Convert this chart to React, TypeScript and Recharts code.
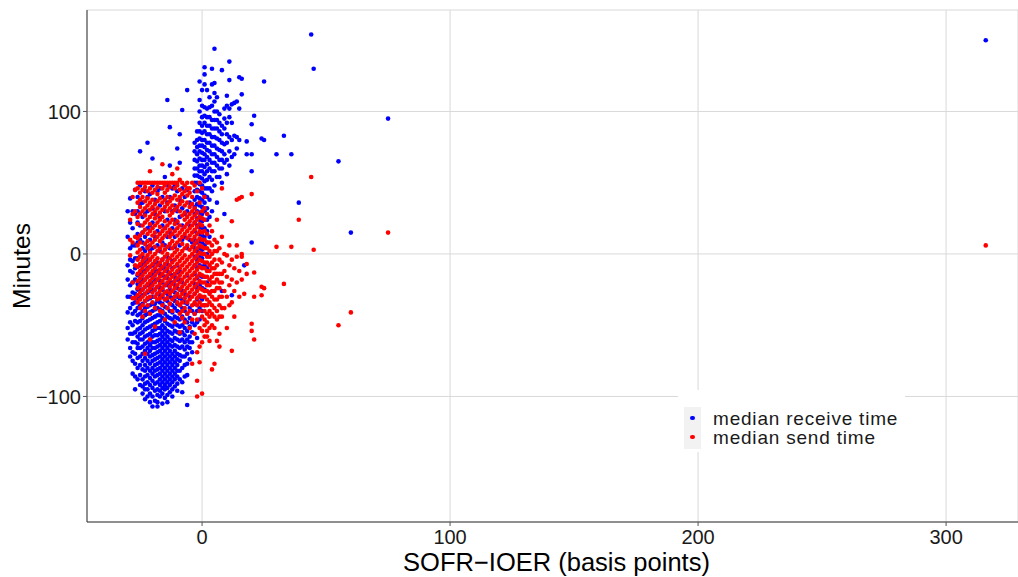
import React from 'react';
import { ScatterChart, Scatter, XAxis, YAxis, CartesianGrid, Legend } from 'recharts';

const xTicks = [0, 100, 200, 300];
const yTicks = [-100, 0, 100];
const seriesNames = ['median receive time', 'median send time'];
const xTitle = 'SOFR\u2212IOER (basis points)';
const yTitle = 'Minutes';

// median receive time: [SOFR-IOER bp, minutes observed at that spread]
const receiveLow: [number, number[]][] = [
  [-30, [30, 12, -8, -18, -30, -41, -52, -60]],
  [-29, [39, 22, 4, -4, -12, -22, -30, -38, -48, -56, -66, -72]],
  [-28, [30, 18, 6, -5, -13, -20, -27, -35, -42, -50, -56, -62, -69, -75, -84]],
  [-27, [45, 28, 6, -3, -10, -18, -28, -34, -40, -47, -55, -62, -70, -77, -86, -95]],
  [-26, [40, 30, 22, 14, 8, -3, -9, -15, -21, -25, -31, -38, -43, -48, -53, -58, -63, -66, -73, -80, -88]],
  [-25, [72, 48, 35, 20, 10, -2, -8, -14, -20, -25, -30, -36, -42, -47, -52, -56, -60, -66, -72, -78, -85, -92]],
  [-24, [36, 26, 15, 8, 4, -2, -7, -12, -18, -25, -29, -35, -40, -45, -50, -55, -60, -65, -70, -75, -81, -88, -93, -98]],
  [-23, [44, 28, 12, 2, -6, -12, -18, -23, -28, -33, -38, -43, -48, -53, -58, -63, -68, -73, -78, -82, -86, -91, -95, -102]],
  [-22, [78, 40, 30, 18, 5, -4, -10, -16, -22, -27, -32, -37, -42, -47, -52, -57, -62, -66, -70, -75, -80, -85, -90, -95, -100]],
  [-21, [42, 20, 10, 2, -4, -9, -15, -21, -26, -31, -36, -41, -46, -51, -56, -60, -64, -68, -72, -77, -82, -87, -92, -98, -104]],
  [-20, [67, 48, 32, 22, 4, -8, -14, -20, -25, -30, -35, -40, -45, -50, -54, -58, -62, -66, -71, -75, -80, -84, -89, -94, -100, -107]],
  [-19, [38, 28, 12, -6, -12, -18, -25, -30, -35, -39, -44, -49, -53, -57, -62, -66, -70, -74, -78, -82, -86, -91, -96, -103]],
  [-18, [44, 16, 6, -6, -12, -18, -23, -28, -33, -38, -43, -48, -52, -57, -61, -65, -69, -73, -77, -81, -85, -90, -95, -99, -104, -107]],
  [-17, [46, 34, 25, 2, -8, -14, -19, -24, -29, -34, -39, -43, -47, -52, -56, -60, -64, -68, -72, -76, -80, -84, -88, -92, -96, -100]],
  [-16, [40, 20, 8, -4, -10, -15, -20, -25, -30, -35, -40, -45, -50, -54, -58, -62, -66, -70, -74, -78, -82, -86, -90, -94, -98, -105]],
  [-15, [54, 30, 18, 6, -10, -16, -22, -27, -32, -37, -42, -47, -52, -56, -60, -64, -68, -72, -76, -80, -84, -88, -92, -95, -101]],
  [-14, [108, 48, 36, 24, 12, -2, -7, -12, -17, -22, -28, -33, -38, -44, -49, -54, -58, -62, -66, -70, -74, -78, -82, -86, -90, -94, -99, -104]],
  [-13, [89, 62, 40, 15, 4, -14, -20, -25, -30, -35, -40, -45, -50, -55, -60, -64, -68, -72, -76, -80, -84, -88, -92, -97]],
  [-12, [46, 30, 18, -5, -10, -15, -20, -26, -31, -36, -41, -46, -51, -56, -61, -65, -70, -74, -78, -82, -86, -90, -95, -100]],
  [-11, [48, 34, 24, 12, 5, -16, -22, -27, -33, -38, -44, -49, -54, -59, -64, -68, -72, -76, -80, -84, -88, -93]],
  [-10, [74, 44, 30, 22, -8, -13, -18, -24, -30, -35, -40, -45, -50, -55, -60, -65, -70, -74, -78, -82, -86, -91, -96]],
  [-9, [84, 64, 38, 26, 6, -12, -18, -25, -31, -36, -41, -46, -51, -56, -61, -66, -71, -75, -82, -88]],
  [-8, [101, 46, 32, 20, 10, -20, -26, -32, -38, -44, -50, -55, -60, -65, -72, -80, -90, -97]],
  [-7, [40, 28, 12, -28, -34, -40, -46, -52, -57, -62, -67, -72, -78, -86]],
  [-6, [115, 45, 30, 4, -15, -35, -42, -48, -54, -60, -65, -70, -77, -85, -106]],
  [-5, [36, 20, 10, -30, -38, -45, -51, -58, -62, -66, -74]],
  [-4, [8, -40, -48, -55, -62, -69]],
];

const receiveHigh: [number, number[]][] = [
  [-3, [-50, -42, -35, -28, -21, -14, -8, -2, 4, 10, 16, 22, 28, 33, 38, 44, 50, 55, 60, 66, 72, 78]],
  [-2, [-59, -48, -40, -32, -24, -17, -10, -4, 2, 8, 14, 20, 25, 30, 35, 40, 45, 50, 55, 60, 65, 70, 75, 80, 86]],
  [-1, [-46, -38, -30, -22, -15, -8, -2, 4, 9, 14, 19, 24, 29, 34, 39, 44, 49, 54, 58, 62, 67, 72, 76, 81, 86, 92, 100, 108, 121]],
  [0, [-40, -32, -24, -16, -9, -3, 3, 8, 13, 18, 23, 28, 33, 38, 43, 48, 53, 58, 62, 66, 71, 76, 80, 85, 90, 96, 104, 115]],
  [1, [-36, -25, -16, -8, 0, 6, 12, 18, 24, 30, 36, 41, 46, 51, 56, 61, 66, 70, 75, 80, 86, 92, 97, 103, 119, 126, 131]],
  [2, [-20, -10, 0, 8, 16, 24, 32, 40, 46, 52, 58, 63, 68, 73, 78, 84, 90, 96, 102, 115]],
  [3, [-27, 12, 26, 38, 46, 54, 60, 66, 72, 78, 84, 90, 96, 103, 110]],
  [4, [30, 44, 52, 58, 64, 70, 76, 82, 88, 94, 104, 119, 130]],
  [5, [48, 58, 64, 70, 76, 82, 88, 94, 100, 107, 113, 120, 144]],
  [6, [36, 54, 62, 68, 74, 81, 88, 94, 100, 110]],
  [7, [54, 60, 66, 73, 80, 86, 92, 98]],
  [8, [-26, 50, 60, 66, 72, 78, 84, 90, 129]],
  [9, [28, 64, 70, 77, 88, 95, 102]],
  [10, [56, 66, 78, 84, 92, 104, 111]],
  [11, [62, 72, 82, 96, 102, 122, 135]],
  [12, [-29, 68, 80, 92, 105]],
  [13, [70, 83, 106]],
  [14, [74, 82, 107]],
  [15, [80, 102, 124]],
  [16, [112, 123]],
  [17, [-8]],
  [18, [70, 79]],
  [20, [8, 58, 70, 91]],
  [21, [97]],
  [24, [81]],
  [25, [80, 121]],
  [30, [70]],
  [33, [83]],
  [36, [70]],
  [39, [36]],
  [44, [154]],
  [45, [130]],
  [55, [65]],
  [60, [15]],
  [75, [95]],
  [316, [150]],
];

// median send time
const sendLeft: [number, number[]][] = [
  [-29, [24, 10, -1]],
  [-28, [40, 28, 8, -20, -31]],
  [-27, [45, 30, 12, -8, -31]],
  [-26, [50, 46, 36, 26, 21, 11, 6, 1, -4, -9, -14, -19, -24, -29, -34]],
  [-25, [50, 43, 38, 33, 28, 13, 8, 3, -2, -7, -12, -17, -22, -27, -32, -38]],
  [-24, [50, 45, 40, 30, 20, 15, 0, -5, -10, -15, -20, -25, -30, -36, -44]],
  [-23, [50, 47, 37, 32, 27, 22, 17, 7, -3, -8, -13, -18, -23, -28, -33, -40, -70]],
  [-22, [50, 44, 39, 34, 24, 14, 9, 4, -1, -6, -11, -16, -21, -26, -31, -36]],
  [-21, [58, 50, 46, 36, 31, 26, 21, 16, 6, 1, -4, -9, -14, -19, -24, -30, -42, -60]],
  [-20, [50, 43, 38, 33, 28, 18, 13, 8, -2, -7, -12, -17, -22, -27, -34]],
  [-19, [50, 45, 35, 30, 25, 20, 15, 10, 5, 0, -5, -10, -15, -20, -25, -30, -38, -51]],
  [-18, [50, 47, 42, 37, 32, 27, 22, 12, 2, -3, -8, -13, -18, -23, -28, -32]],
  [-17, [50, 39, 29, 24, 19, 14, 9, 4, -6, -11, -16, -21, -26, -31, -40]],
  [-16, [63, 50, 46, 36, 31, 26, 16, 11, 6, 1, -4, -9, -14, -19, -24, -29, -36, -41]],
  [-15, [50, 48, 43, 38, 33, 23, 18, 13, 3, -2, -7, -12, -17, -22, -27, -32, -46]],
  [-14, [50, 45, 40, 35, 30, 20, 15, 5, 0, -5, -10, -15, -20, -26, -31, -38]],
  [-13, [50, 47, 37, 32, 27, 22, 17, 12, 7, -3, -8, -13, -18, -23, -28, -35]],
  [-12, [56, 50, 39, 34, 29, 24, 14, 9, 4, -1, -6, -11, -16, -21, -26, -32, -40]],
  [-11, [50, 46, 41, 31, 21, 16, 6, 1, -4, -9, -14, -19, -24, -30, -48]],
  [-10, [60, 50, 48, 38, 33, 23, 18, 13, 8, 3, -2, -7, -12, -17, -22, -28, -34]],
  [-9, [52, 45, 40, 35, 30, 20, 15, 10, 0, -5, -10, -15, -20, -25, -30, -36, -42, -55]],
  [-8, [50, 42, 37, 27, 17, 12, 7, 2, -3, -8, -13, -18, -23, -28, -34, -40, -45]],
  [-7, [48, 44, 34, 29, 24, 19, 14, 4, -1, -6, -11, -16, -21, -26, -31, -38, -48]],
  [-6, [50, 46, 41, 36, 26, 21, 16, 11, 6, -4, -9, -14, -19, -24, -29, -34, -42]],
  [-5, [46, 43, 33, 28, 23, 18, 13, 3, -2, -7, -12, -17, -22, -27, -32, -40, -52]],
  [-4, [50, 40, 35, 30, 25, 20, 15, 10, 5, 0, -5, -10, -15, -20, -25, -30, -36, -46, -77]],
  [-3, [48, 32, 27, 22, 17, 12, 7, 2, -3, -8, -13, -18, -23, -28, -34, -42, -56]],
  [-2, [44, 29, 24, 19, 14, 9, 4, -1, -6, -11, -16, -21, -26, -31, -36, -46, -69, -89, -100]],
  [-1, [50, 36, 26, 21, 16, 11, 6, 1, -4, -9, -14, -19, -24, -29, -34, -40, -52, -65, -76]],
  [0, [46, 30, 25, 20, 15, 10, 5, 0, -5, -10, -15, -20, -25, -30, -36, -44, -54, -62, -98]],
];

const sendRight: [number, number[]][] = [
  [1, [40, 32, 24, 16, 10, 4, 0, -6, -10, -16, -20, -26, -30, -36, -40, -46, -50, -58]],
  [2, [28, 14, 8, 4, -2, -6, -12, -16, -22, -26, -32, -36, -42, -48, -54, -58]],
  [3, [20, 8, 2, -2, -8, -12, -18, -22, -28, -34, -40, -44, -52, -61]],
  [4, [16, 6, 0, -6, -10, -16, -20, -26, -30, -36, -42, -50, -81]],
  [5, [10, 2, -4, -10, -14, -20, -26, -32, -38, -44, -52, -77]],
  [6, [24, 8, 2, -8, -14, -18, -24, -32, -40, -46, -61]],
  [7, [4, -4, -14, -20, -24, -30, -36, -44, -56, -65]],
  [8, [46, 12, -6, -14, -20, -30, -38, -44]],
  [9, [0, -12, -26, -38]],
  [10, [-1, -16, -30, -52]],
  [11, [6, -8, -22, -36]],
  [12, [23, -4, -18, -34, -68]],
  [13, [-10, -26, -44]],
  [14, [38, 6, -2, -20]],
  [15, [39, -12, -30]],
  [16, [40, 0, -2, -18]],
  [17, [-28]],
  [18, [-7, -14]],
  [20, [42, -49, -54]],
  [21, [-13, -30, -60]],
  [24, [-23, -29]],
  [25, [-24]],
  [30, [5]],
  [33, [-21]],
  [36, [5]],
  [39, [24]],
  [44, [54]],
  [45, [3]],
  [55, [-50]],
  [60, [-41]],
  [75, [15]],
  [316, [6]],
];

const toPoints = (cols: [number, number[]][]) =>
  cols.flatMap(([x, ys]) => ys.map((y) => ({ x, y })));

const receiveData = [...toPoints(receiveLow), ...toPoints(receiveHigh)];
const sendData = [...toPoints(sendLeft), ...toPoints(sendRight)];

const FONT = '"Liberation Sans", Arial, Helvetica, sans-serif';
const BLUE = '#0000ff';
const RED = '#ff0000';

const fmt = (v: number) => String(v).replace('-', '\u2212');

const dot = (color: string) => (p: any) => (
  <circle cx={p.cx} cy={p.cy} r={2.3} fill={color} stroke="none" />
);

const LegendBox = (props: any) => {
  const items = props.payload || [];
  return (
    <div style={{ position: 'relative', width: 227, height: 62, background: '#ffffff', fontFamily: FONT }}>
      <div style={{ position: 'absolute', left: 6, top: 17, width: 17, height: 42, background: '#f2f2f2' }} />
      {items.map((it: any, i: number) => (
        <React.Fragment key={i}>
          <div
            style={{
              position: 'absolute',
              left: 12.4,
              top: 25.7 + i * 19,
              width: 4.6,
              height: 4.6,
              borderRadius: '50%',
              background: it.color,
            }}
          />
          <div
            style={{
              position: 'absolute',
              left: 35,
              top: 18.9 + i * 19.2,
              height: 19,
              fontSize: 19,
              lineHeight: '19px',
              letterSpacing: 0.8,
              color: '#1a1a1a',
              whiteSpace: 'nowrap',
            }}
          >
            {it.value}
          </div>
        </React.Fragment>
      ))}
    </div>
  );
};

export default function App() {
  return (
    <div style={{ position: 'absolute', left: 0, top: 0, width: 1018, height: 577, background: '#fff' }}>
      <ScatterChart width={1018} height={577} margin={{ top: 10, right: 0, bottom: 0, left: 0 }}>
        <CartesianGrid stroke="#d9d9d9" strokeWidth={1} />
        <XAxis
          type="number"
          dataKey="x"
          domain={[-46.4, 329]}
          ticks={xTicks}
          tickFormatter={fmt}
          height={55}
          tickSize={4}
          tickMargin={4}
          stroke="#333"
          tickLine={{ stroke: '#555' }}
          tick={{ fill: '#1a1a1a', fontSize: 20, fontFamily: FONT }}
          label={{ value: xTitle, position: 'insideBottom', offset: 6, dx: 4, style: { fontSize: 25.5, fontFamily: FONT, fill: '#000' } }}
        />
        <YAxis
          type="number"
          dataKey="y"
          domain={[-188.1, 171.2]}
          ticks={yTicks}
          tickFormatter={fmt}
          width={87}
          tickSize={4}
          tickMargin={2}
          stroke="#333"
          tickLine={{ stroke: '#555' }}
          tick={{ fill: '#1a1a1a', fontSize: 20, fontFamily: FONT }}
          label={{ value: yTitle, angle: -90, position: 'insideLeft', offset: 21, style: { textAnchor: 'middle', fontSize: 24.5, fontFamily: FONT, fill: '#000' } }}
        />
        <Legend
          layout="vertical"
          align="center"
          verticalAlign="middle"
          wrapperStyle={{ position: 'absolute', left: 678, top: 390, width: 227, height: 62, margin: 0, padding: 0 }}
          content={<LegendBox />}
        />
        <Scatter name={seriesNames[0]} data={receiveData} fill={BLUE} shape={dot(BLUE)} isAnimationActive={false} />
        <Scatter name={seriesNames[1]} data={sendData} fill={RED} shape={dot(RED)} isAnimationActive={false} />
      </ScatterChart>
    </div>
  );
}
